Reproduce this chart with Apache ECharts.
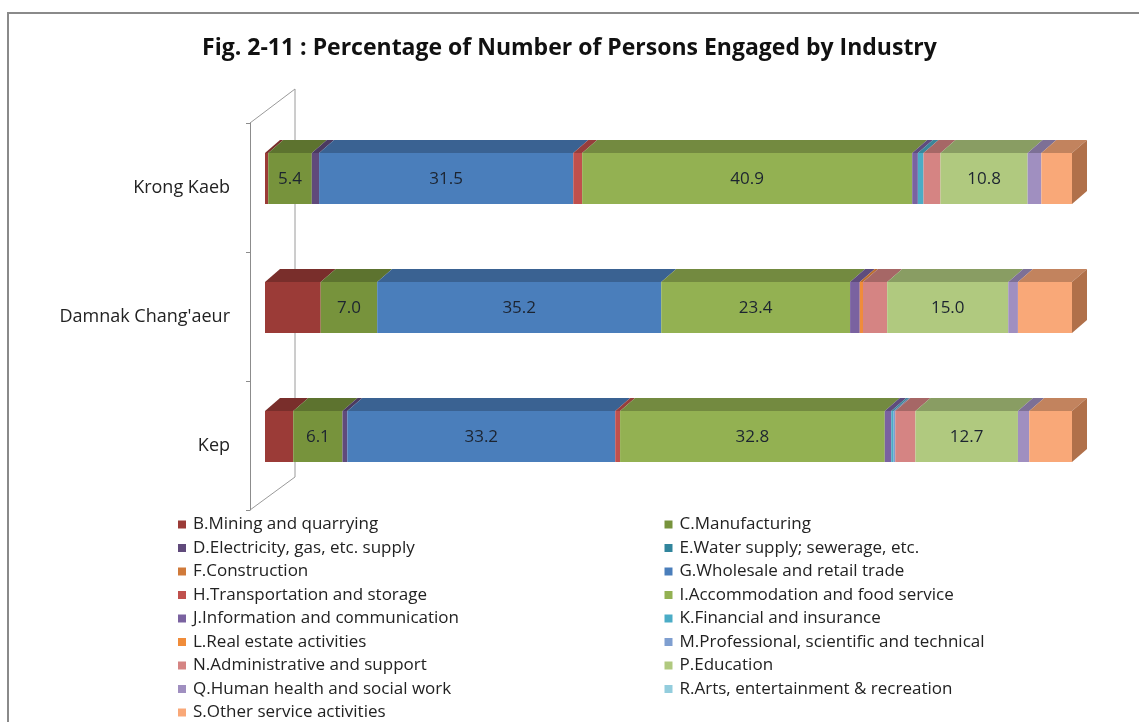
<!DOCTYPE html>
<html>
<head>
<meta charset="utf-8">
<script src="https://cdn.jsdelivr.net/npm/echarts@6/dist/echarts.min.js"></script>
<style>
html,body{margin:0;padding:0;background:#fff;}
#chart{width:1139px;height:722px;}
</style>
</head>
<body>
<div id="chart"></div>
<script>
// ---- data ----
const categories = ['Kep', "Damnak Chang'aeur", 'Krong Kaeb'];
const industries = [
  'B.Mining and quarrying', 'C.Manufacturing',
  'D.Electricity, gas, etc. supply', 'E.Water supply; sewerage, etc.',
  'F.Construction', 'G.Wholesale and retail trade',
  'H.Transportation and storage', 'I.Accommodation and food service',
  'J.Information and communication', 'K.Financial and insurance',
  'L.Real estate activities', 'M.Professional, scientific and technical',
  'N.Administrative and support', 'P.Education',
  'Q.Human health and social work', 'R.Arts, entertainment & recreation',
  'S.Other service activities'
];
// values per industry for [Kep, Damnak Chang'aeur, Krong Kaeb]
const B = [3.5, 6.9, 0.4];
const C = [6.1, 7.0, 5.4];
const D = [0.6, 0.0, 0.9];
const E = [0.0, 0.0, 0.0];
const F = [0.0, 0.0, 0.0];
const G = [33.2, 35.2, 31.5];
const H = [0.6, 0.0, 1.1];
const I = [32.8, 23.4, 40.9];
const J = [0.8, 1.2, 0.7];
const K = [0.3, 0.0, 0.7];
const L = [0.0, 0.4, 0.0];
const M = [0.2, 0.0, 0.0];
const N = [2.5, 3.0, 2.1];
const P = [12.7, 15.0, 10.8];
const Q = [1.4, 1.2, 1.7];
const R = [0.0, 0.0, 0.0];
const S = [5.3, 6.7, 3.8];
const seriesValues = [B, C, D, E, F, G, H, I, J, K, L, M, N, P, Q, R, S];
const labelled = ['C.Manufacturing', 'G.Wholesale and retail trade', 'I.Accommodation and food service', 'P.Education'];

// ---- styles ----
const colors = ['#9b3b37', '#77933c', '#604a7b', '#31859c', '#d07a3a', '#4a7ebb',
  '#c0504d', '#93b152', '#7a62a0', '#4bacc6', '#f08c3a', '#7f9fd0',
  '#d58483', '#b0c97f', '#a08fc0', '#93cddd', '#f9a878'];
const FONT = '"Open Sans", sans-serif';
const DX = 15, DY = -9;       // bar depth shift relative to front plane
const TX = 15, TY = 13;       // top-face depth
const BAR_RATIO = 0.395;

function darken(hex, f) {
  const n = parseInt(hex.slice(1), 16);
  const r = Math.round(((n >> 16) & 255) * f), g = Math.round(((n >> 8) & 255) * f), b = Math.round((n & 255) * f);
  return 'rgb(' + r + ',' + g + ',' + b + ')';
}

const cum = categories.map(() => 0);
const series = industries.map((name, si) => {
  const vals = seriesValues[si];
  const data = vals.map((v, ci) => {
    const s = cum[ci];
    cum[ci] += v;
    return [ci, s, s + v, v];
  });
  const color = colors[si];
  const isLast = si === industries.length - 1;
  const showLabel = labelled.indexOf(name) >= 0;
  return {
    name: name,
    type: 'custom',
    itemStyle: { color: color },
    encode: { x: [1, 2], y: 0 },
    data: data,
    renderItem: function (params, api) {
      const ci = api.value(0), st = api.value(1), en = api.value(2), v = api.value(3);
      if (!(v > 0)) return null;
      const p0 = api.coord([st, ci]);
      const p1 = api.coord([en, ci]);
      const h = api.size([0, 1])[1] * BAR_RATIO;
      const x0 = p0[0] + DX, x1 = p1[0] + DX, yc = p0[1] + DY;
      const top = yc - h / 2, bot = yc + h / 2;
      const children = [
        { type: 'rect', shape: { x: x0, y: top, width: x1 - x0, height: h },
          style: { fill: color } },
        { type: 'polygon', shape: { points: [[x0, top], [x1, top], [x1 + TX, top - TY], [x0 + TX, top - TY]] },
          style: { fill: darken(color, 0.78) } }
      ];
      if (isLast) {
        children.push({ type: 'polygon', shape: { points: [[x1, top], [x1 + TX, top - TY], [x1 + TX, bot - TY], [x1, bot]] },
          style: { fill: '#b0704a' } });
      }
      if (showLabel) {
        children.push({ type: 'text', style: { text: v.toFixed(1), x: (x0 + x1) / 2, y: yc + 1,
          align: 'center', verticalAlign: 'middle', fill: '#1c2430', font: '17px ' + FONT } });
      }
      return { type: 'group', children: children };
    }
  };
});

const chart = echarts.init(document.getElementById('chart'));
chart.setOption({
  animation: false,
  backgroundColor: '#fff',
  title: {
    text: 'Fig. 2-11 : Percentage of Number of Persons Engaged by Industry',
    left: 'center', top: 32,
    textStyle: { fontFamily: FONT, fontSize: 23, fontWeight: 'bold', color: '#111' }
  },
  grid: { left: 250, top: 123, width: 807, height: 387 },
  xAxis: { type: 'value', min: 0, max: 100, show: false },
  yAxis: {
    type: 'category', data: categories,
    axisLine: { show: true, lineStyle: { color: '#8c8c8c', width: 1 } },
    axisTick: { show: true, length: 4, lineStyle: { color: '#8c8c8c' } },
    axisLabel: { margin: 20, fontFamily: FONT, fontSize: 18, color: '#222' }
  },
  legend: {
    left: 178, top: 516, width: 1000, padding: 0,
    itemWidth: 8, itemHeight: 8, itemGap: 6.5,
    icon: 'rect',
    data: industries,
    textStyle: { fontFamily: FONT, fontSize: 17, color: '#222', width: 465, lineHeight: 13.5, padding: [0, 0, 0, 2] }
  },
  graphic: [
    { type: 'rect', z: 0, shape: { x: 8, y: 13, width: 1200, height: 800 },
      style: { fill: null, stroke: '#8a8a8a', lineWidth: 2 } },
    { type: 'polyline', z: 0, shape: { points: [[250, 123], [295, 89], [295, 477], [250, 510]] },
      style: { fill: null, stroke: '#9a9a9a', lineWidth: 1 } }
  ],
  series: series
});
</script>
</body>
</html>
